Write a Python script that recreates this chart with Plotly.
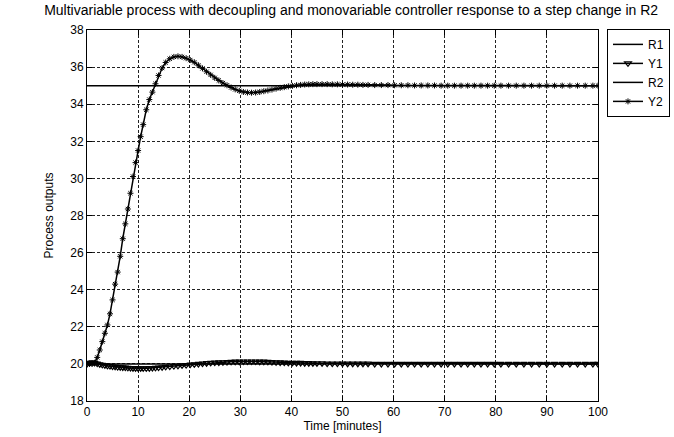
import plotly.graph_objects as go

# Simulation time base (minutes) and recorded responses
time_min = [0, 0.5, 1.0, 1.5, 2.0, 2.5, 3.0, 3.5, 4.0, 4.5, 5.0, 5.5, 6.0, 6.5, 7.0, 7.5,
            8.0, 8.5, 9.0, 9.5, 10.0, 10.5, 11.0, 11.6, 12.2, 12.8, 13.4, 14.0, 14.7, 15.4,
            16.2, 17.0, 17.8, 18.6, 19.4, 20.2, 21.0, 21.8, 22.6, 23.4, 24.2, 25.0, 25.8,
            26.6, 27.4, 28.2, 29.0, 29.8, 30.6, 31.4, 32.2, 33.0, 33.8, 34.6, 35.4, 36.2,
            37.0, 37.8, 38.6, 39.4, 40.2, 41.0, 41.8, 42.6, 43.4, 44.2, 45.0, 46.0, 47.0,
            48.0, 49.0, 50.0, 51.0, 52.0, 53.0, 54.0, 55.0, 56.3, 57.6, 58.9, 60.2, 61.5,
            62.8, 64.1, 65.4, 66.7, 68.0, 69.3, 70.6, 71.9, 73.2, 74.5, 75.8, 77.1, 78.4,
            79.7, 81.0, 82.5, 84.0, 85.5, 87.0, 88.5, 90.0, 91.5, 93.0, 94.5, 96.0, 97.5,
            99.0, 100.0]

y2_out = [20.0, 20.0, 20.0, 20.05, 20.35, 20.75, 21.2, 21.65, 22.1, 22.7, 23.45, 24.3,
          24.95, 25.8, 26.75, 27.55, 28.35, 29.2, 30.1, 30.85, 31.5, 32.25, 32.9, 33.7,
          34.25, 34.65, 35.1, 35.55, 35.95, 36.25, 36.45, 36.55, 36.58, 36.55, 36.48,
          36.38, 36.26, 36.1, 35.93, 35.75, 35.58, 35.42, 35.28, 35.14, 35.02, 34.9, 34.8,
          34.72, 34.66, 34.63, 34.62, 34.63, 34.66, 34.7, 34.74, 34.79, 34.84, 34.88,
          34.92, 34.96, 34.99, 35.02, 35.04, 35.06, 35.07, 35.08, 35.08, 35.08, 35.08,
          35.07, 35.07, 35.06, 35.06, 35.05, 35.05, 35.04, 35.04, 35.03, 35.03, 35.03,
          35.02, 35.02, 35.02, 35.01, 35.01, 35.01, 35.01, 35.0, 35.0, 35.0, 35.0, 35.0,
          35.0, 35.0, 35.0, 35.0, 35.0, 35.0, 35.0, 35.0, 35.0, 35.0, 35.0, 35.0, 35.0,
          35.0, 35.0, 35.0, 35.0, 35.0]

y1_out = [20.0, 20.05, 20.08, 20.06, 20.02, 19.98, 19.95, 19.92, 19.9, 19.88, 19.86, 19.85,
          19.83, 19.82, 19.81, 19.8, 19.79, 19.78, 19.77, 19.77, 19.76, 19.76, 19.76, 19.76,
          19.77, 19.78, 19.79, 19.8, 19.82, 19.84, 19.86, 19.88, 19.9, 19.92, 19.94, 19.96,
          19.98, 20.0, 20.02, 20.04, 20.06, 20.07, 20.08, 20.09, 20.1, 20.11, 20.12, 20.12,
          20.13, 20.13, 20.13, 20.13, 20.12, 20.12, 20.11, 20.1, 20.09, 20.08, 20.07, 20.06,
          20.06, 20.05, 20.05, 20.04, 20.04, 20.03, 20.03, 20.03, 20.02, 20.02, 20.02, 20.02,
          20.01, 20.01, 20.01, 20.01, 20.01, 20.0, 20.0, 20.0, 20.0, 20.0, 20.0, 20.0, 20.0,
          20.0, 20.0, 20.0, 20.0, 20.0, 20.0, 20.0, 20.0, 20.0, 20.0, 20.0, 20.0, 20.0, 20.0,
          20.0, 20.0, 20.0, 20.0, 20.0, 20.0, 20.0, 20.0, 20.0, 20.0, 20.0]

# Set-points: R1 held constant, R2 stepped to its new value
setpoint_time = [0, 100]
r1_setpoint = [20, 20]
r2_setpoint = [35, 35]

FONT = "Liberation Sans, Arial, sans-serif"

fig = go.Figure()
fig.add_trace(go.Scatter(x=setpoint_time, y=r1_setpoint, name="R1", mode="lines",
                         line=dict(color="black", width=1.5)))
fig.add_trace(go.Scatter(x=time_min, y=y1_out, name="Y1", mode="lines+markers",
                         line=dict(color="black", width=1.5),
                         marker=dict(symbol="triangle-down-open", size=6, color="black",
                                     line=dict(width=1.2, color="black"))))
fig.add_trace(go.Scatter(x=setpoint_time, y=r2_setpoint, name="R2", mode="lines",
                         line=dict(color="black", width=1.5)))
fig.add_trace(go.Scatter(x=time_min, y=y2_out, name="Y2", mode="lines+markers",
                         line=dict(color="black", width=1.5),
                         marker=dict(symbol="asterisk-open", size=5, color="black",
                                     line=dict(width=1, color="black"))))

axis_common = dict(
    showline=True, linecolor="black", linewidth=1, mirror="ticks",
    ticks="inside", ticklen=5, tickcolor="black",
    showgrid=True, gridcolor="#222", gridwidth=1, griddash="3px,2px",
    zeroline=False, tickfont=dict(family=FONT, size=12, color="black"),
)

fig.update_xaxes(range=[0, 100], dtick=10, tick0=0,
                 title=dict(text="Time [minutes]", standoff=2,
                            font=dict(family=FONT, size=12, color="black")),
                 **axis_common)
fig.update_yaxes(range=[18, 38], dtick=2, tick0=18,
                 title=dict(text="Process outputs", standoff=14,
                            font=dict(family=FONT, size=12, color="black")),
                 **axis_common)

fig.update_layout(
    width=674, height=437,
    margin=dict(l=87, r=76, t=30, b=36, autoexpand=False),
    paper_bgcolor="white", plot_bgcolor="white",
    font=dict(family=FONT, size=12, color="black"),
    title=dict(text="Multivariable process with decoupling and monovariable controller response to a step change in R2",
               x=0.521, xref="container", xanchor="center",
               y=0.977, yref="container", yanchor="middle",
               font=dict(family=FONT, size=14, color="black")),
    legend=dict(x=1.0176, y=1.003, xanchor="left", yanchor="top",
                bgcolor="white", bordercolor="black", borderwidth=1,
                itemwidth=30, font=dict(family=FONT, size=12, color="black"),
                tracegroupgap=0),
    showlegend=True,
)

fig.write_html("out.html")
